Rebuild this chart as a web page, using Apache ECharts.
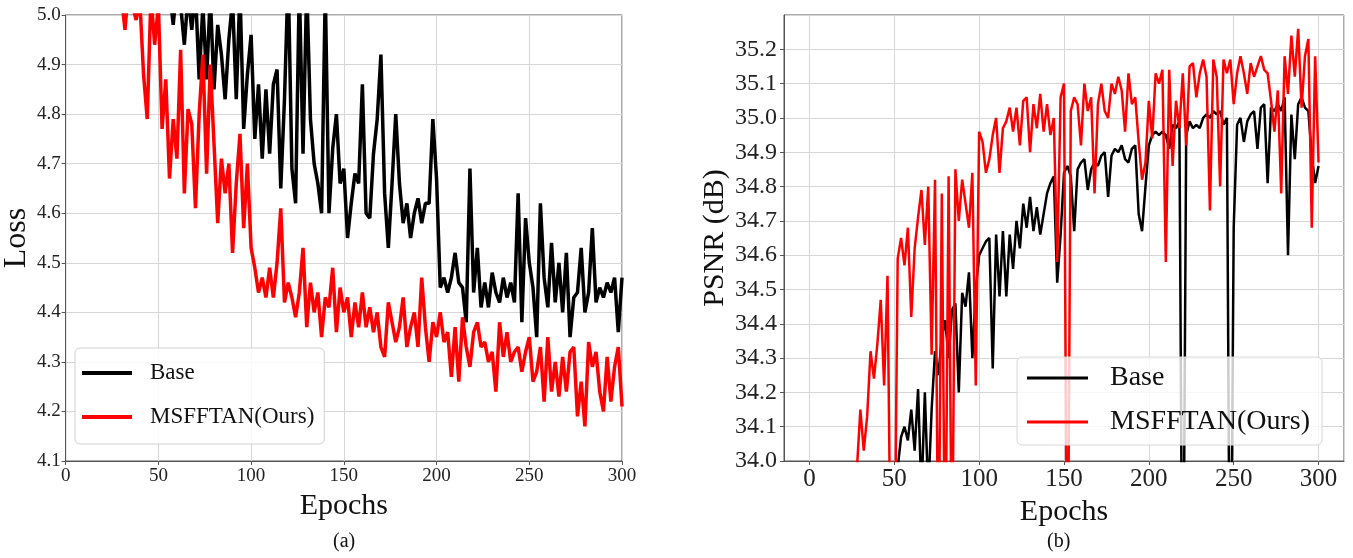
<!DOCTYPE html>
<html>
<head>
<meta charset="utf-8">
<script src="https://cdn.jsdelivr.net/npm/echarts@6/dist/echarts.min.js"></script>
<style>
html,body{margin:0;padding:0;background:#fff;}
#c{width:1353px;height:558px;}
</style>
</head>
<body>
<div id="c"></div>
<script>
// Epoch positions (every 2nd epoch)
const epochs = Array.from({length:150}, (_, i) => 2 + 2 * i);

// (a) Loss curves
const lossBase = [
5.9,5.85,5.8,5.75,5.7,5.65,5.6,5.55,5.5,5.45,
5.42,5.38,5.35,5.3,5.27,5.24,5.2,5.18,5.15,5.12,
5.1,5.08,5.1,5.06,5.05,5.08,5.03,5.05,4.98,5.06,
5.02,4.94,5.04,4.97,5.05,4.87,5.02,4.87,5.04,4.85,
4.98,4.92,4.83,4.95,5.03,4.83,5.05,4.77,4.88,4.96,
4.75,4.86,4.71,4.85,4.72,4.86,4.89,4.65,4.83,5.08,
4.69,4.62,5.06,4.72,5.06,4.79,4.70,4.66,4.60,5.05,
4.60,4.73,4.80,4.66,4.69,4.55,4.62,4.68,4.66,4.86,
4.60,4.59,4.72,4.79,4.92,4.64,4.53,4.66,4.80,4.66,
4.58,4.62,4.55,4.60,4.63,4.58,4.62,4.62,4.79,4.67,
4.45,4.47,4.44,4.47,4.52,4.46,4.45,4.38,4.69,4.44,
4.53,4.41,4.46,4.41,4.48,4.44,4.42,4.47,4.43,4.46,
4.42,4.64,4.38,4.59,4.50,4.45,4.35,4.62,4.47,4.41,
4.54,4.42,4.50,4.40,4.52,4.35,4.43,4.44,4.53,4.40,
4.44,4.57,4.42,4.45,4.43,4.46,4.44,4.47,4.36,4.47
];
const lossOurs = [
5.6,5.55,5.5,5.45,5.42,5.38,5.35,5.3,5.27,5.24,
5.2,5.17,5.14,5.1,5.04,4.97,5.06,5.02,4.99,5.03,
4.88,4.79,5.04,4.94,5.02,4.77,4.87,4.67,4.79,4.71,
4.93,4.64,4.81,4.78,4.61,4.80,4.92,4.68,4.90,4.74,
4.58,4.71,4.64,4.70,4.52,4.66,4.76,4.57,4.70,4.53,
4.49,4.44,4.47,4.43,4.49,4.43,4.50,4.61,4.42,4.46,
4.43,4.39,4.44,4.53,4.37,4.46,4.40,4.44,4.35,4.43,
4.41,4.49,4.36,4.45,4.40,4.43,4.35,4.42,4.37,4.44,
4.37,4.41,4.36,4.40,4.33,4.31,4.42,4.38,4.34,4.37,
4.43,4.33,4.37,4.40,4.33,4.47,4.37,4.30,4.38,4.35,
4.40,4.34,4.36,4.27,4.37,4.26,4.39,4.33,4.29,4.36,
4.38,4.33,4.34,4.30,4.32,4.24,4.38,4.31,4.36,4.30,
4.32,4.33,4.28,4.32,4.35,4.26,4.28,4.33,4.22,4.35,
4.24,4.30,4.23,4.31,4.24,4.32,4.33,4.19,4.26,4.17,
4.34,4.29,4.32,4.24,4.20,4.31,4.22,4.29,4.33,4.21
];

// (b) PSNR curves
const psnrBase = [
33.0,33.05,33.1,33.15,33.2,33.25,33.3,33.35,33.4,33.45,
33.5,33.55,33.6,33.62,33.65,33.68,33.7,33.73,33.76,33.8,
33.83,33.86,33.9,33.93,33.95,33.98,34.07,34.10,34.06,34.15,
34.03,34.21,33.9,34.20,33.9,34.15,34.32,34.25,34.36,34.41,
34.30,34.44,34.46,34.20,34.49,34.45,34.55,34.30,34.50,34.60,
34.62,34.64,34.65,34.27,34.66,34.48,34.67,34.48,34.66,34.56,
34.70,34.62,34.75,34.68,34.77,34.67,34.74,34.66,34.72,34.78,
34.81,34.83,34.52,34.66,34.84,34.86,34.83,34.67,34.85,34.87,
34.88,34.79,34.85,34.87,34.86,34.89,34.90,34.77,34.89,34.91,
34.90,34.92,34.88,34.87,34.91,34.92,34.72,34.67,34.80,34.92,
34.95,34.96,34.95,34.96,34.95,34.91,34.98,34.97,34.99,33.3,
34.95,34.99,34.97,34.98,34.97,35.00,35.01,35.00,35.02,35.01,
35.02,34.98,35.00,33.3,34.68,34.98,35.00,34.93,34.99,35.01,
35.02,34.91,35.03,35.04,34.81,35.03,35.02,35.04,35.02,35.06,
34.60,35.01,34.88,35.04,35.06,35.03,35.02,34.89,34.81,34.86
];
const psnrOurs = [
33.2,33.25,33.3,33.35,33.4,33.45,33.5,33.55,33.6,33.65,
33.7,33.75,33.85,33.98,34.15,34.03,34.13,34.32,34.24,34.34,
34.47,34.22,34.54,33.6,33.6,34.59,34.65,34.57,34.68,34.42,
34.62,34.71,34.79,34.63,34.80,34.31,34.82,33.6,34.78,33.6,
34.83,33.6,34.85,34.70,34.82,34.75,34.68,34.84,34.22,34.96,
34.93,34.84,34.88,34.95,35.00,34.84,34.97,34.99,35.03,34.96,
35.03,34.92,35.05,35.06,34.90,35.04,34.97,35.07,34.96,35.04,
34.95,35.00,34.58,35.06,35.10,33.4,35.02,35.06,35.04,34.92,
35.10,35.02,35.06,34.78,35.04,35.10,35.02,35.00,35.10,35.07,
35.12,35.08,34.96,35.13,35.04,35.06,34.93,34.82,34.87,35.05,
34.94,35.13,35.10,35.14,34.58,35.14,34.86,35.05,34.97,35.13,
34.92,35.15,35.16,35.06,35.13,35.17,35.12,34.73,35.17,35.12,
34.80,35.17,35.13,35.17,35.04,35.13,35.18,35.13,35.07,35.16,
35.12,35.15,35.18,35.14,35.13,35.05,34.96,35.08,34.78,35.18,
35.07,35.24,35.12,35.26,35.03,35.18,35.23,34.68,35.18,34.87
];

const seriesNames = ['Base', 'MSFFTAN(Ours)'];
const lossTicks = [4.1,4.2,4.3,4.4,4.5,4.6,4.7,4.8,4.9,5.0];

const pairs = (ys) => ys.map((v, i) => [epochs[i], v]);
const FONT = '"Liberation Serif","Times New Roman",serif';
const AX = '#555';
const GRIDC = '#d6d6d6';

const chart = echarts.init(document.getElementById('c'), null, {renderer: 'canvas'});

function xAxisCfg(gi, min, max, fs, interval) {
  const a = {
    type: 'value', gridIndex: gi, min: min, max: max,
    name: 'Epochs', nameLocation: 'middle', nameGap: 27,
    nameTextStyle: {fontFamily: FONT, fontSize: 30, color: '#111'},
    axisLine: {show: true, onZero: false, lineStyle: {color: AX, width: 1}},
    axisTick: {show: true, length: 4, lineStyle: {color: AX}},
    axisLabel: {fontFamily: FONT, fontSize: fs, color: '#222', margin: 6,
                showMinLabel: gi === 0, showMaxLabel: gi === 0},
    splitLine: {show: true, lineStyle: {color: GRIDC, width: 1}}
  };
  if (interval) a.interval = interval;
  return a;
}

function yAxisCfg(gi, min, max, name, gap, nameFs, fs, margin, hideMax) {
  return {
    type: 'value', gridIndex: gi, min: min, max: max, interval: 0.1,
    name: name, nameLocation: 'middle', nameGap: gap,
    nameTextStyle: {fontFamily: FONT, fontSize: nameFs, color: '#111'},
    axisLine: {show: true, onZero: false, lineStyle: {color: AX, width: 1}},
    axisTick: {show: true, length: 4, lineStyle: {color: AX}},
    axisLabel: {fontFamily: FONT, fontSize: fs, color: '#222', margin: margin,
                showMaxLabel: !hideMax, formatter: v => v.toFixed(1)},
    splitLine: {show: true, lineStyle: {color: GRIDC, width: 1}}
  };
}

chart.setOption({
  animation: false,
  backgroundColor: '#fff',
  grid: [
    {left: 62, top: 15, width: 560, height: 446, show: true, borderColor: AX, borderWidth: 1},
    {left: 784, top: 15, width: 560, height: 446, show: true, borderColor: AX, borderWidth: 1}
  ],
  xAxis: [
    xAxisCfg(0, 0, 300, 19, 50),
    xAxisCfg(1, -15, 315, 25, null)
  ],
  yAxis: [
    yAxisCfg(0, lossTicks[0], lossTicks[lossTicks.length - 1], 'Loss', 26, 32, 19, 5, false),
    yAxisCfg(1, 34.0, 35.3, 'PSNR (dB)', 54, 30, 24, 7, true)
  ],
  legend: [
    {data: seriesNames, orient: 'vertical', left: 75, top: 348,
     icon: 'rect', itemWidth: 50, itemHeight: 4, itemGap: 14,
     padding: [10, 10, 12, 7],
     backgroundColor: 'rgba(255,255,255,0.85)', borderColor: '#d0d0d0', borderWidth: 1, borderRadius: 5,
     textStyle: {fontFamily: FONT, fontSize: 23, color: '#111', lineHeight: 30, padding: [0, 0, 0, 13]}},
    {data: seriesNames, orient: 'vertical', left: 1017, top: 357,
     icon: 'rect', itemWidth: 61, itemHeight: 3, itemGap: 14,
     padding: [6, 12, 8, 10],
     backgroundColor: 'rgba(255,255,255,0.8)', borderColor: '#d8d8d8', borderWidth: 1, borderRadius: 5,
     textStyle: {fontFamily: FONT, fontSize: 28, color: '#111', lineHeight: 30, padding: [0, 0, 0, 17]}}
  ],
  graphic: [
    {type: 'text', left: 333, top: 532, style: {text: '(a)', font: '20px ' + FONT, fill: '#111'}},
    {type: 'text', left: 1047, top: 532, style: {text: '(b)', font: '20px ' + FONT, fill: '#111'}}
  ],
  series: [
    {name: seriesNames[0], type: 'line', xAxisIndex: 0, yAxisIndex: 0, data: pairs(lossBase),
     symbol: 'none', clip: true, lineStyle: {color: '#000', width: 3.5}, itemStyle: {color: '#000'}},
    {name: seriesNames[1], type: 'line', xAxisIndex: 0, yAxisIndex: 0, data: pairs(lossOurs),
     symbol: 'none', clip: true, lineStyle: {color: '#ff0000', width: 3.5}, itemStyle: {color: '#ff0000'}},
    {name: seriesNames[0], type: 'line', xAxisIndex: 1, yAxisIndex: 1, data: pairs(psnrBase),
     symbol: 'none', clip: true, lineStyle: {color: '#000', width: 2.5}, itemStyle: {color: '#000'}},
    {name: seriesNames[1], type: 'line', xAxisIndex: 1, yAxisIndex: 1, data: pairs(psnrOurs),
     symbol: 'none', clip: true, lineStyle: {color: '#ff0000', width: 2.5}, itemStyle: {color: '#ff0000'}}
  ]
});
</script>
</body>
</html>
